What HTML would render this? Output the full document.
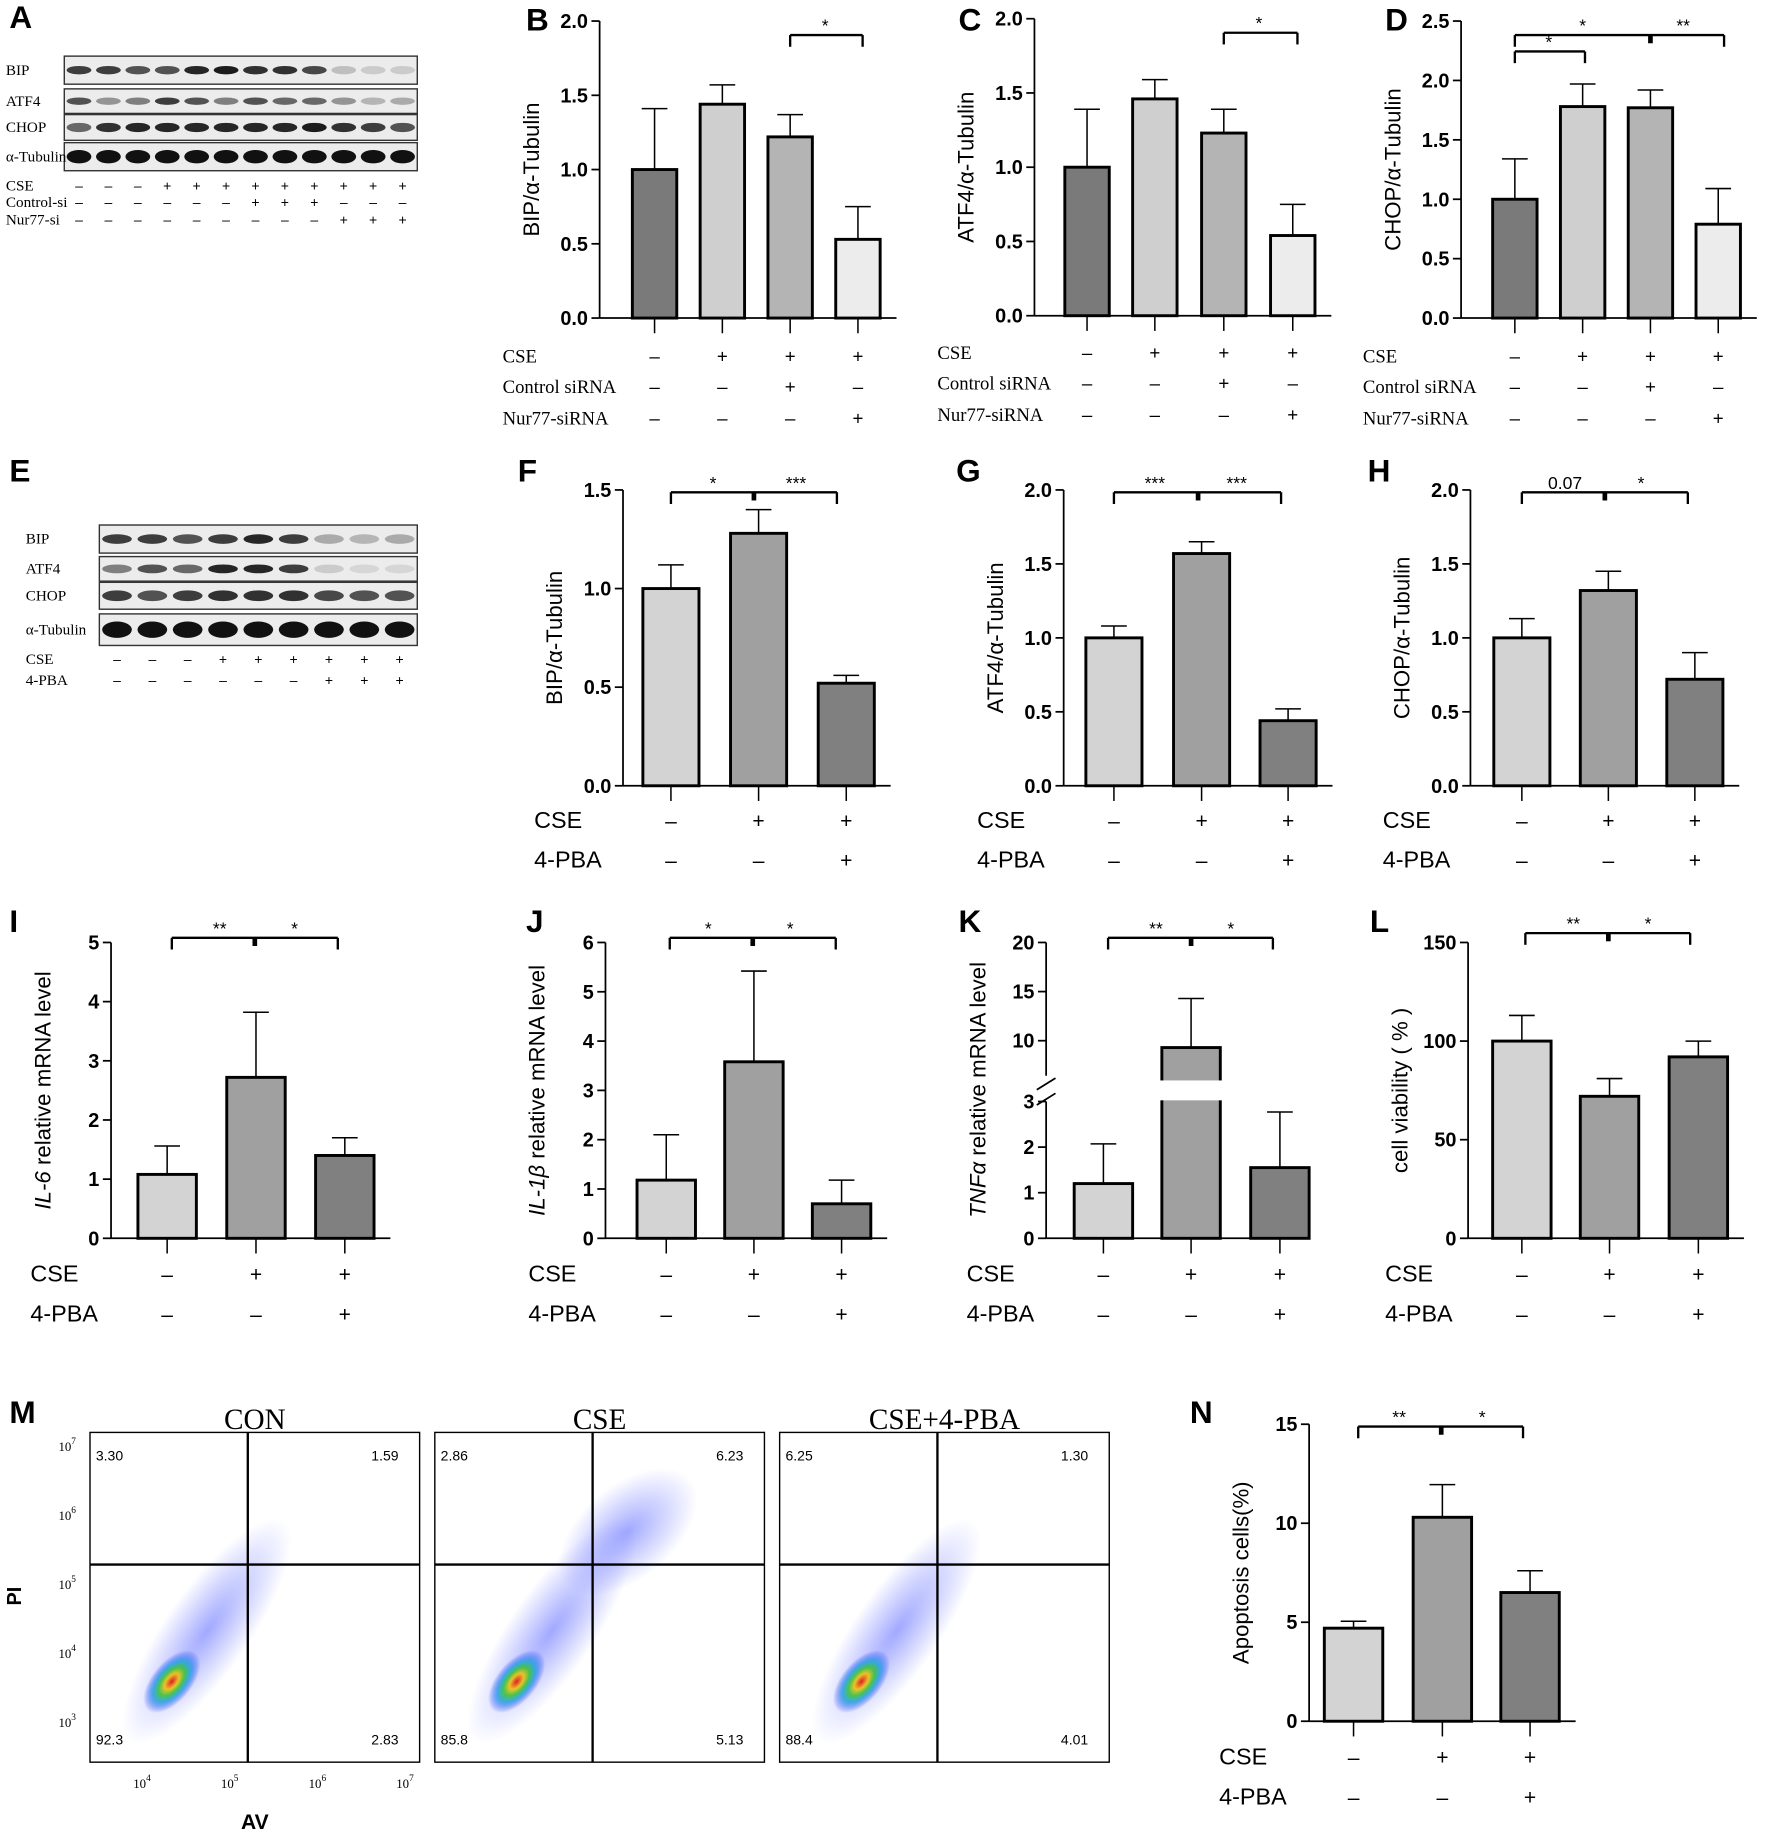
<!DOCTYPE html>
<html><head><meta charset="utf-8"><style>
html,body{margin:0;padding:0;background:#fff}
svg{display:block}
text{font-family:"Liberation Sans",Arial,sans-serif}
.serif{font-family:"Liberation Serif","Times New Roman",serif}
</style></head><body>
<svg id="fig" xmlns="http://www.w3.org/2000/svg" width="1772" height="1837" viewBox="0 0 1516 1571" preserveAspectRatio="none">
<defs>
<radialGradient id="dens"><stop offset="0" stop-color="#e00000"/><stop offset="0.25" stop-color="#f0c000"/><stop offset="0.45" stop-color="#30c030"/><stop offset="0.65" stop-color="#20a0e0"/><stop offset="1" stop-color="#2030ff" stop-opacity="0"/></radialGradient>
<radialGradient id="blue"><stop offset="0" stop-color="#3040ff" stop-opacity="0.45"/><stop offset="1" stop-color="#3040ff" stop-opacity="0"/></radialGradient>
</defs>
<g id="root"></g>
</svg>
<script>
// ---- data ----
const bCats=["1","2","3","4"], bVals=[1.0,1.44,1.22,0.53], bErr=[0.41,0.13,0.15,0.22], bTicks=["0.0","0.5","1.0","1.5","2.0"];
const cVals=[1.0,1.46,1.23,0.54], cErr=[0.39,0.13,0.16,0.21], cTicks=["0.0","0.5","1.0","1.5","2.0"];
const dVals=[1.0,1.78,1.77,0.79], dErr=[0.34,0.19,0.15,0.30], dTicks=["0.0","0.5","1.0","1.5","2.0","2.5"];
const fVals=[1.0,1.28,0.52], fErr=[0.12,0.12,0.04], fTicks=["0.0","0.5","1.0","1.5"];
const gVals=[1.0,1.57,0.44], gErr=[0.08,0.08,0.08], gTicks=["0.0","0.5","1.0","1.5","2.0"];
const hVals=[1.0,1.32,0.72], hErr=[0.13,0.13,0.18], hTicks=["0.0","0.5","1.0","1.5","2.0"];
const iVals=[1.08,2.72,1.40], iErr=[0.48,1.10,0.30], iTicks=["0","1","2","3","4","5"];
const jVals=[1.18,3.58,0.70], jErr=[0.92,1.84,0.48], jTicks=["0","1","2","3","4","5","6"];
const kVals=[1.2,9.3,1.55], kErr=[0.87,5.0,1.22], kLowTicks=["0","1","2","3"], kHighTicks=["10","15","20"];
const lVals=[100,72,92], lErr=[13,9,8], lTicks=["0","50","100","150"];
const nVals=[4.7,10.3,6.5], nErr=[0.35,1.65,1.1], nTicks=["0","5","10","15"];

const NS="http://www.w3.org/2000/svg";
const root=document.getElementById('root');
function el(tag,attrs,parent,txt){const e=document.createElementNS(NS,tag);for(const k in attrs)e.setAttribute(k,attrs[k]);if(txt!==undefined)e.textContent=txt;(parent||root).appendChild(e);return e;}
function line(x1,y1,x2,y2,w,p,name){const e=el('line',{x1,y1,x2,y2,stroke:'#000','stroke-width':w||1.5},p);

return e;}
function txt(x,y,s,o,p,name){const e=el('text',Object.assign({x,y,'font-size':16,fill:'#000'},o||{}),p,s);

return e;}

function letter(x,y,s){txt(x,y,s,{'font-size':27,'font-weight':'bold'},null,'panel-label-'+s.toLowerCase());}

function barChart(o){
  const g=el('g',{});
  
  
  const max=o.max, Y=v=>o.y0-v/max*(o.y0-o.ytop);
  const n=o.ticks.length;
  line(o.ax,o.ytop,o.ax,o.y0,1.5,g,'y-axis');
  o.ticks.forEach((t,i)=>{const v=max*i/(n-1),y=Y(v);line(o.ax-7,y,o.ax,y,1.5,g,'y-tick');
    txt(o.ax-10,y+6,t,{'text-anchor':'end','font-weight':'bold','font-size':17},g,'y-tick-label');});
  const right=o.xs[o.xs.length-1]+o.w/2+14;
  line(o.ax,o.y0,right,o.y0,1.5,g,'x-axis');
  o.vals.forEach((v,i)=>{const x=o.xs[i];
    const eTop=Y(v+o.errs[i]);
    line(x,Y(v),x,eTop,1.3,g,'error-bar');line(x-11,eTop,x+11,eTop,1.3,g,'error-cap');
    const r=el('rect',{x:x-o.w/2,y:Y(v),width:o.w,height:o.y0-Y(v),fill:o.colors[i],stroke:'#000','stroke-width':2.5},g);
    
    
    line(x,o.y0,x,o.y0+13,1.3,g,'x-tick');
  });
  const cy=(o.ytop+o.y0)/2;
  const t=txt(o.ax-52,cy,'',{'text-anchor':'middle','font-size':o.ylfs||19,transform:`rotate(-90 ${o.ax-52} ${cy})`},g,'y-axis-title');
  if(o.ital){const a=el('tspan',{'font-style':'italic'},t,o.ital);el('tspan',{},t,o.ylabel);}
  else t.textContent=o.ylabel;
  o.rows.forEach((r,ri)=>{const y=o.rowY[ri];
    txt(o.labelX,y,r[0],{'font-size':o.serif?16:20,class:o.serif?'serif':''},g,'row-label');
    r[1].forEach((s,i)=>txt(o.xs[i],y,s==='+'?'+':'–',{'text-anchor':'middle','font-size':o.serif?16:18},g,'row-sign'));});
  return {g,Y};
}
function bracket(g,x1,x2,y,labels,mid){const h=10;
  line(x1,y+h,x1,y,2,g,'sig-bracket');line(x1,y,x2,y,2,g,'sig-bracket');line(x2,y,x2,y+h,2,g,'sig-bracket');
  if(mid!==undefined)line(mid,y,mid,y+7,4,g,'sig-bracket');
  labels.forEach(l=>txt(l[0],y-3,l[1],{'text-anchor':'middle','font-size':15},g,'sig-label'));}

const c4=['#7a7a7a','#cfcfcf','#b4b4b4','#ececec'], c3=['#d3d3d3','#a0a0a0','#808080'];
const rows4=[['CSE',['-','+','+','+']],['Control siRNA',['-','-','+','-']],['Nur77-siRNA',['-','-','-','+']]];
const rows3=[['CSE',['-','+','+']],['4-PBA',['-','-','+']]];

letter(8,24,'A');letter(450,26,'B');letter(820,26,'C');letter(1185,26,'D');
letter(8,412,'E');letter(443,412,'F');letter(818,412,'G');letter(1170,412,'H');
letter(8,797,'I');letter(450,797,'J');letter(820,797,'K');letter(1172,797,'L');
letter(8,1217,'M');letter(1018,1217,'N');

let r;
r=barChart({id:'b',ax:513,y0:272,ytop:18,max:2,ticks:bTicks,xs:[560,618,676,734],w:38,vals:bVals,errs:bErr,colors:c4,ylabel:'BIP/α-Tubulin',rows:rows4,rowY:[310,336,363],labelX:430,serif:true});
bracket(r.g,676,738,30,[[706,'*']]);
r=barChart({id:'c',ax:885,y0:270,ytop:16,max:2,ticks:cTicks,xs:[930,988,1047,1106],w:38,vals:cVals,errs:cErr,colors:c4,ylabel:'ATF4/α-Tubulin',rows:rows4,rowY:[307,333,360],labelX:802,serif:true});
bracket(r.g,1047,1110,28,[[1077,'*']]);
r=barChart({id:'d',ax:1250,y0:272,ytop:18,max:2.5,ticks:dTicks,xs:[1296,1354,1412,1470],w:38,vals:dVals,errs:dErr,colors:c4,ylabel:'CHOP/α-Tubulin',rows:rows4,rowY:[310,336,363],labelX:1166,serif:true});
bracket(r.g,1296,1475,30,[[1354,'*'],[1440,'**']],1412);bracket(r.g,1296,1356,44,[[1325,'*']]);
r=barChart({id:'f',ax:533,y0:672,ytop:419,max:1.5,ticks:fTicks,xs:[574,649,724],w:48,vals:fVals,errs:fErr,colors:c3,ylabel:'BIP/α-Tubulin',rows:rows3,rowY:[708,742],labelX:457});
bracket(r.g,574,716,421,[[610,'*'],[681,'***']],645);
r=barChart({id:'g',ax:910,y0:672,ytop:419,max:2,ticks:gTicks,xs:[953,1028,1102],w:48,vals:gVals,errs:gErr,colors:c3,ylabel:'ATF4/α-Tubulin',rows:rows3,rowY:[708,742],labelX:836});
bracket(r.g,953,1096,421,[[988,'***'],[1058,'***']],1025);
r=barChart({id:'h',ax:1258,y0:672,ytop:419,max:2,ticks:hTicks,xs:[1302,1376,1450],w:48,vals:hVals,errs:hErr,colors:c3,ylabel:'CHOP/α-Tubulin',rows:rows3,rowY:[708,742],labelX:1183});
bracket(r.g,1302,1444,421,[[1339,'0.07'],[1404,'*']],1373);
r=barChart({id:'i',ax:95,y0:1059,ytop:806,max:5,ticks:iTicks,xs:[143,219,295],w:50,vals:iVals,errs:iErr,colors:c3,ital:'IL-6',ylabel:' relative mRNA level',rows:rows3,rowY:[1096,1130],labelX:26});
bracket(r.g,147,289,802,[[188,'**'],[252,'*']],218);
r=barChart({id:'j',ax:518,y0:1059,ytop:806,max:6,ticks:jTicks,xs:[570,645,720],w:50,vals:jVals,errs:jErr,colors:c3,ital:'IL-1β',ylabel:' relative mRNA level',rows:rows3,rowY:[1096,1130],labelX:452});
bracket(r.g,573,715,802,[[606,'*'],[676,'*']],644);
r=barChart({id:'l',ax:1256,y0:1059,ytop:806,max:150,ticks:lTicks,xs:[1302,1377,1453],w:50,vals:lVals,errs:lErr,colors:c3,ylabel:'cell viability ( % )',rows:rows3,rowY:[1096,1130],labelX:1185});
bracket(r.g,1305,1446,798,[[1346,'**'],[1410,'*']],1376);
r=barChart({id:'n',ax:1120,y0:1472,ytop:1218,max:15,ticks:nTicks,xs:[1158,1234,1309],w:50,vals:nVals,errs:nErr,colors:c3,ylabel:'Apoptosis cells(%)',rows:rows3,rowY:[1509,1543],labelX:1043});
bracket(r.g,1162,1303,1220,[[1197,'**'],[1268,'*']],1233);

// ---- K broken axis ----
(function(){
  const g=el('g',{});
  
  
  const ax=895,y0=1059,lowTop=942,hiBot=890,hiTop=806;
  const Y=v=> v<=3 ? y0-v/3*(y0-lowTop) : hiBot-(v-10)/10*(hiBot-hiTop);
  line(ax,lowTop,ax,y0,1.5,g,'y-axis-lower');line(ax,hiTop,ax,hiBot+30,1.5,g,'y-axis-upper');
  line(ax-8,932,ax+8,922,1.5,g,'axis-break');line(ax-8,945,ax+8,935,1.5,g,'axis-break');
  kLowTicks.forEach((t,i)=>{const y=Y(i);line(ax-7,y,ax,y,1.5,g,'y-tick');txt(ax-10,y+6,t,{'text-anchor':'end','font-weight':'bold','font-size':17},g,'y-tick-label');});
  kHighTicks.forEach((t,i)=>{const y=Y(10+5*i);line(ax-7,y,ax,y,1.5,g,'y-tick');txt(ax-10,y+6,t,{'text-anchor':'end','font-weight':'bold','font-size':17},g,'y-tick-label');});
  const xs=[944,1019,1095];
  line(ax,y0,1110,y0,1.5,g,'x-axis');
  kVals.forEach((v,i)=>{const x=xs[i],e=Y(v+kErr[i]);
    line(x,Y(v),x,e,1.3,g,'error-bar');line(x-11,e,x+11,e,1.3,g,'error-cap');
    const r=el('rect',{x:x-25,y:Y(v),width:50,height:y0-Y(v),fill:c3[i],stroke:'#000','stroke-width':2.5},g);
    
    
    line(x,y0,x,y0+13,1.3,g,'x-tick');});
  const gap=el('rect',{x:990,y:924,width:58,height:17,fill:'#fff'},g);
  
  
  const t=txt(843,932,'',{'text-anchor':'middle','font-size':19,transform:'rotate(-90 843 932)'},g,'y-axis-title');
  const a=el('tspan',{'font-style':'italic'},t,'TNFα');
  el('tspan',{},t,' relative mRNA level');
  rows3.forEach((r,ri)=>{const y=[1096,1130][ri];txt(827,y,r[0],{'font-size':20},g,'row-label');
    r[1].forEach((s,i)=>txt(xs[i],y,s==='+'?'+':'–',{'text-anchor':'middle','font-size':18},g,'row-sign'));});
  bracket(g,948,1089,802,[[989,'**'],[1053,'*']],1019);
})();

// ---- Western blots ----
function blot(id,x1,x2,bands,lanes,names,labX,signRows,signY,signNames,signLabX){
  const g=el('g',{});
  
  
  bands.forEach((b,bi)=>{
    const r=el('rect',{x:x1,y:b[0],width:x2-x1,height:b[1]-b[0],fill:'#ececec',stroke:'#333','stroke-width':1.2},g);
    
    
    txt(labX,(b[0]+b[1])/2+4,names[bi],{'font-size':13,class:'serif'},g,'blot-label');
    const step=(x2-x1)/lanes;
    for(let i=0;i<lanes;i++){const cx=x1+step*(i+0.5);const op=b[2][i];
      const e=el('ellipse',{cx,cy:(b[0]+b[1])/2,rx:step*0.42,ry:(b[1]-b[0])*b[3],fill:'#111','fill-opacity':op},g);
      
      }
  });
  signRows.forEach((row,ri)=>{const step=(x2-x1)/lanes;
    txt(signLabX,signY[ri]+4,signNames[ri],{'font-size':13,class:'serif'},g,'blot-row-label');
    row.forEach((s,i)=>txt(x1+step*(i+0.5),signY[ri]+4,s==='+'?'+':'–',{'font-size':12,'text-anchor':'middle'},g,'blot-sign'));});
}
const aP=['-','-','-','+','+','+','+','+','+','+','+','+'],aC=['-','-','-','-','-','-','+','+','+','-','-','-'],aN=['-','-','-','-','-','-','-','-','-','+','+','+'];
blot('a',55,357,[[48,72,[.8,.8,.7,.7,.9,.95,.85,.85,.75,.2,.15,.15],.15],[76,97,[.7,.4,.5,.8,.7,.5,.7,.6,.6,.4,.25,.3],.15],[98,120,[.6,.85,.9,.9,.9,.9,.9,.9,.95,.85,.8,.7],.18],[122,146,[1,1,1,1,1,1,1,1,1,1,1,1],.24]],12,['BIP','ATF4','CHOP','α-Tubulin'],5,[aP,aC,aN],[159,173,188],['CSE','Control-si','Nur77-si'],5);
const eP=['-','-','-','+','+','+','+','+','+'],eB=['-','-','-','-','-','-','+','+','+'];
blot('e',85,357,[[449,473,[.8,.8,.7,.8,.9,.8,.3,.25,.3],.17],[476,497,[.5,.7,.6,.9,.9,.8,.15,.1,.1],.18],[498,521,[.8,.7,.8,.85,.85,.85,.75,.7,.7],.2],[525,552,[1,1,1,1,1,1,1,1,1],.26]],9,['BIP','ATF4','CHOP','α-Tubulin'],22,[eP,eB],[564,582],['CSE','4-PBA'],22);

// ---- Flow cytometry ----
const flowNames=['CON','CSE','CSE+4-PBA'];
const flowQ=[['3.30','1.59','92.3','2.83'],['2.86','6.23','85.8','5.13'],['6.25','1.30','88.4','4.01']];
const flowX=[77,372,667];
flowX.forEach((x,i)=>{
  const g=el('g',{});
  
  
  const r=el('rect',{x,y:1225,width:282,height:282,fill:'#fff',stroke:'#000','stroke-width':1.2},g);
  
  
  const b=el('ellipse',{cx:x+100,cy:1395,rx:115,ry:36,fill:'url(#blue)',transform:`rotate(-55 ${x+100} 1395)`},g);
  
  
  if(i===1){const b2=el('ellipse',{cx:x+165,cy:1310,rx:70,ry:40,fill:'url(#blue)',transform:`rotate(-40 ${x+165} 1310)`},g);
    
    }
  const d=el('ellipse',{cx:x+70,cy:1438,rx:32,ry:17,fill:'url(#dens)','fill-opacity':0.85,transform:`rotate(-50 ${x+70} 1438)`},g);
  
  
  line(x+135,1225,x+135,1507,2,g,'quadrant-line');line(x,1338,x+282,1338,2,g,'quadrant-line');
  txt(x+141,1222,flowNames[i],{'font-size':25,'text-anchor':'middle',class:'serif'},g,'flow-title');
  const q=flowQ[i];
  txt(x+5,1249,q[0],{'font-size':12},g,'quadrant-value');txt(x+264,1249,q[1],{'font-size':12,'text-anchor':'end'},g,'quadrant-value');
  txt(x+5,1492,q[2],{'font-size':12},g,'quadrant-value');txt(x+264,1492,q[3],{'font-size':12,'text-anchor':'end'},g,'quadrant-value');
});
['7','6','5','4','3'].forEach((p,i)=>{const y=1241+i*59;txt(50,y,'10',{'font-size':11,class:'serif'},null,'y-axis-tick-pi');txt(61,y-6,p,{'font-size':8,class:'serif'},null,'y-axis-tick-pi-exp');});
['4','5','6','7'].forEach((p,i)=>{const x=114+i*75;txt(x,1529,'10',{'font-size':11,class:'serif'},null,'x-axis-tick-av');txt(x+11,1523,p,{'font-size':8,class:'serif'},null,'x-axis-tick-av-exp');});
txt(18,1365,'PI',{'font-size':17,'font-weight':'bold','text-anchor':'middle',transform:'rotate(-90 18 1365)'},null,'y-axis-title-pi');
txt(218,1564,'AV',{'font-size':18,'font-weight':'bold','text-anchor':'middle'},null,'x-axis-title-av');
</script>
</body></html>
